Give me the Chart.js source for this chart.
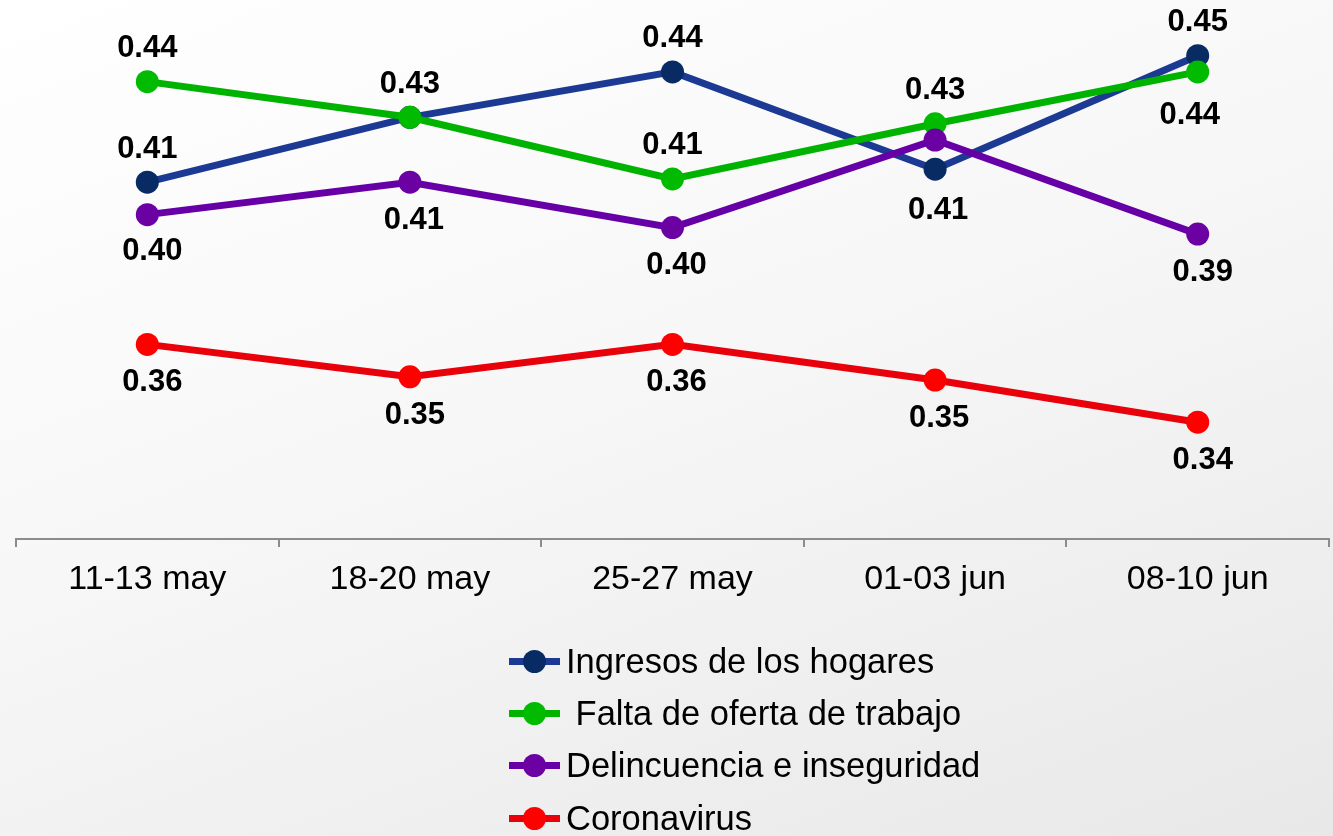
<!DOCTYPE html>
<html>
<head>
<meta charset="utf-8">
<title>Problemas principales</title>
<script src="https://cdn.jsdelivr.net/npm/chart.js@4.4.1/dist/chart.umd.min.js"></script>
<style>
  html, body { margin: 0; padding: 0; }
  body {
    width: 1333px;
    height: 836px;
    overflow: hidden;
    position: relative;
    background: linear-gradient(160deg, #ffffff 0%, #f7f7f7 45%, #e8e8e8 100%);
    font-family: Arial, "Liberation Sans", sans-serif;
  }
  #chart-wrap { position: absolute; left: 0; top: 0; width: 1333px; height: 836px; }
  #legend { position: absolute; left: 509px; top: 635px; }
  .legend-item {
    display: flex;
    align-items: center;
    height: 52.4px;
    font-size: 34.5px;
    color: #000;
    white-space: pre;
  }
  .swatch { position: relative; width: 51px; height: 7px; margin-right: 6px; }
  .swatch .dot {
    position: absolute;
    left: 14px;
    top: -8px;
    width: 23px;
    height: 23px;
    border-radius: 50%;
  }
</style>
</head>
<body>
<div id="chart-wrap"><canvas id="chart" width="1333" height="836"></canvas></div>
<div id="legend"></div>

<script>
// Data
const categories = ['11-13 may', '18-20 may', '25-27 may', '01-03 jun', '08-10 jun'];
const seriesNames = ['Ingresos de los hogares', ' Falta de oferta de trabajo', 'Delincuencia e inseguridad', 'Coronavirus'];
const ingresos = [0.410, 0.430, 0.444, 0.414, 0.449];
const faltaTrabajo = [0.441, 0.430, 0.411, 0.428, 0.444];
const delincuencia = [0.400, 0.410, 0.396, 0.423, 0.394];
const coronavirus = [0.360, 0.350, 0.360, 0.349, 0.336];

// Styles
const lineColors = ['#1c3a94', '#00b300', '#6600a6', '#e8000a'];
const pointColors = ['#082b63', '#00bb00', '#6b00a3', '#ff0000'];

// Where each value label sits relative to its point [dx, dy]; null = not shown
const labelOffsets = [
  [[0, -33], [0, -33], [0, -33], [3, 41], [0, -33]],
  [[0, -33], null, [0, -33], [0, -33], [-8, 44]],
  [[5, 37], [4, 38], [4, 38], null, [5, 38]],
  [[5, 38], [5, 39], [4, 38], [4, 38], [5, 38]]
];

const FONT = 'Arial, "Liberation Sans", sans-serif';

const valueLabels = {
  id: 'valueLabels',
  afterDatasetsDraw(chart) {
    const ctx = chart.ctx;
    ctx.save();
    ctx.font = `bold 31px ${FONT}`;
    ctx.fillStyle = '#000';
    ctx.textAlign = 'center';
    ctx.textBaseline = 'middle';
    chart.data.datasets.forEach((ds, i) => {
      const meta = chart.getDatasetMeta(i);
      meta.data.forEach((pt, j) => {
        const off = labelOffsets[i][j];
        if (!off) return;
        ctx.fillText(ds.data[j].toFixed(2), pt.x + off[0], pt.y + off[1]);
      });
    });
    ctx.restore();
  }
};

const seriesValues = [ingresos, faltaTrabajo, delincuencia, coronavirus];

const datasets = seriesValues.map((values, i) => ({
  label: seriesNames[i],
  data: values,
  borderColor: lineColors[i],
  backgroundColor: pointColors[i],
  pointBackgroundColor: pointColors[i],
  pointBorderWidth: 0,
  pointRadius: 11.5,
  pointHoverRadius: 11.5,
  borderWidth: 7,
  tension: 0,
  clip: false,
  order: seriesValues.length - i
}));

const ctx = document.getElementById('chart').getContext('2d');
new Chart(ctx, {
  type: 'line',
  data: { labels: categories, datasets: datasets },
  options: {
    responsive: false,
    animation: false,
    layout: {
      autoPadding: false,
      padding: { top: 20, left: 16, right: 4, bottom: 227 }
    },
    plugins: {
      legend: { display: false },
      tooltip: { enabled: false }
    },
    scales: {
      x: {
        offset: true,
        afterFit: (scale) => { scale.height = 70; },
        grid: {
          offset: true,
          drawOnChartArea: false,
          drawTicks: true,
          tickLength: 8,
          color: '#8c8c8c',
          lineWidth: 2
        },
        border: { display: true, color: '#8c8c8c', width: 2 },
        ticks: {
          color: '#000',
          padding: 12,
          font: { family: FONT, size: 34 }
        }
      },
      y: {
        display: false,
        min: 0.30,
        max: 0.46
      }
    }
  },
  plugins: [valueLabels]
});

// Legend (vertical list, built from the datasets)
const legendDiv = document.getElementById('legend');
datasets.forEach((ds) => {
  const item = document.createElement('div');
  item.className = 'legend-item';
  item.innerHTML = `<div class="swatch" style="background:${ds.borderColor}"><div class="dot" style="background:${ds.pointBackgroundColor}"></div></div><span></span>`;
  item.querySelector('span').textContent = ds.label;
  legendDiv.appendChild(item);
});
</script>
</body>
</html>
